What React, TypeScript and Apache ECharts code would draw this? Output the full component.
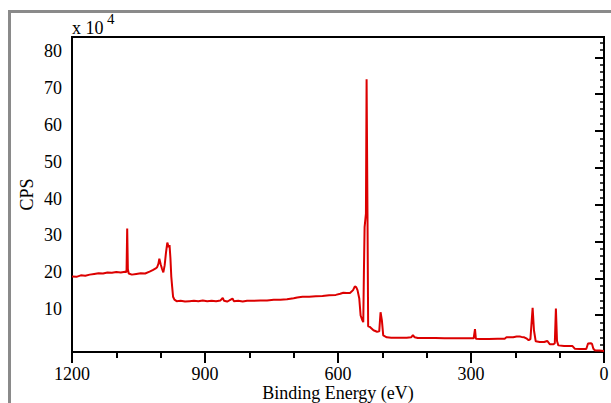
import { useEffect, useRef } from 'react';
import * as echarts from 'echarts';

// Binding energy (eV) and intensity (CPS, in units of 10^4)
const energy = [
  1200, 1190, 1180, 1170, 1160, 1150, 1140, 1130, 1120, 1110, 1100, 1090, 1080, 1077, 1075.5, 1074, 1072,
  1065, 1055, 1045, 1035, 1025, 1018, 1012, 1008, 1005, 1003, 1000, 997, 994, 991, 988, 985, 982, 980,
  978, 976, 974, 972, 969, 964, 955, 945, 935, 925, 915, 905, 895, 885, 875, 865, 860, 857, 850, 845,
  838, 835, 825, 815, 805, 790, 775, 760, 745, 730, 715, 700, 692, 680, 665, 650, 635, 620, 605, 595,
  588, 580, 573, 566, 562, 559, 556, 552, 549, 545, 543, 541.5, 540, 537, 535.5, 533.5, 532, 528, 520,
  512, 507, 504, 501, 498, 490, 480, 460, 445, 435, 431, 427, 420, 400, 380, 360, 340, 320, 300, 294,
  291, 289, 280, 260, 240, 224, 220, 205, 197, 190, 186, 180, 174, 170, 166, 161, 158, 154, 145, 135,
  128, 122, 114, 111, 108.5, 106, 103, 90, 80, 71, 66, 55, 40, 36, 30, 27, 24, 20, 10, 0,
];
const cps = [
  20.5, 20.4, 20.8, 20.7, 21.0, 21.2, 21.4, 21.3, 21.6, 21.5, 21.7, 21.6, 21.8, 21.7, 33.5, 22.5, 21.3,
  21.0, 21.2, 21.4, 21.3, 21.8, 22.2, 22.6, 23.0, 24.0, 25.3, 23.8, 22.6, 21.6, 23.5, 27.0, 29.7, 28.5, 29.0,
  25.5, 20.4, 17.6, 15.0, 14.2, 13.8, 13.9, 13.7, 13.8, 13.9, 13.8, 14.0, 13.8, 13.9, 13.8, 14.0, 14.7, 13.9, 13.7, 14.0,
  14.5, 13.8, 13.9, 13.7, 13.9, 13.9, 14.0, 14.0, 14.2, 14.2, 14.3, 14.6, 14.8, 15.0, 15.0, 15.1, 15.2, 15.4, 15.5, 15.8,
  16.1, 16.0, 16.0, 16.8, 17.8, 17.6, 16.8, 14.5, 9.9, 8.6, 8.1, 22.2, 33.9, 37.6, 74.0, 37.6, 7.0, 6.8, 5.9,
  5.5, 5.6, 10.8, 8.6, 4.5, 4.0, 3.9, 3.9, 3.9, 4.0, 4.6, 4.0, 3.8, 3.8, 3.8, 3.7, 3.7, 3.7, 3.7, 3.7,
  6.2, 3.6, 3.5, 3.5, 3.6, 3.6, 4.0, 4.0, 4.2, 4.2, 4.1, 4.0, 3.6, 3.2, 3.5, 12.0, 5.9, 2.9, 2.7, 2.7,
  3.0, 2.1, 2.1, 2.4, 11.8, 3.0, 1.8, 1.6, 1.6, 1.6, 0.9, 0.8, 0.8, 2.3, 2.4, 2.2, 0.9, 0.4, 0.4, 0.3,
];

const xTicks = [1200, 900, 600, 300, 0];
const yTicks = [10, 20, 30, 40, 50, 60, 70, 80];

const FONT = "'Liberation Serif', 'Times New Roman', serif";

export default function App() {
  const ref = useRef<HTMLDivElement>(null);
  useEffect(() => {
    const chart = echarts.init(ref.current!, null, { renderer: 'svg' });
    chart.setOption({
      animation: false,
      backgroundColor: '#fff',
      grid: {
        left: 72, top: 37, right: 7, bottom: 51,
        outerBoundsMode: 'none',
        containLabel: false,
        show: true, borderColor: '#000', borderWidth: 2, backgroundColor: 'transparent',
      },
      xAxis: {
        type: 'value',
        inverse: true,
        min: 0,
        max: 1200,
        interval: 300,
        axisLine: { show: true, lineStyle: { color: '#000', width: 2 } },
        axisTick: { show: true, length: 11, lineStyle: { color: '#000', width: 2 } },
        minorTick: { show: true, splitNumber: 3, length: 6, lineStyle: { color: '#000', width: 2 } },
        splitLine: { show: false },
        axisLabel: {
          fontFamily: FONT, fontSize: 18, color: '#000', margin: 13,
          formatter: (v: number) => (xTicks.includes(v) ? String(v) : ''),
        },
        name: 'Binding Energy (eV)',
        nameLocation: 'middle',
        nameGap: 32,
        nameMoveOverlap: false,
        nameTextStyle: { fontFamily: FONT, fontSize: 18, color: '#000' },
      },
      yAxis: {
        type: 'value',
        min: 0,
        max: 85.5,
        interval: 10,
        axisLine: { show: true, lineStyle: { color: '#000', width: 2 } },
        axisTick: { show: true, length: 9, lineStyle: { color: '#000', width: 2 } },
        minorTick: { show: true, splitNumber: 5, length: 4, lineStyle: { color: '#000', width: 1.5 } },
        splitLine: { show: false },
        axisLabel: {
          fontFamily: FONT, fontSize: 18, color: '#000', margin: 10,
          verticalAlign: 'bottom', lineHeight: 12,
          showMaxLabel: false,
          formatter: (v: number) => (yTicks.includes(v) ? String(v) : ''),
        },
        name: 'CPS',
        nameLocation: 'middle',
        nameGap: 36,
        nameMoveOverlap: false,
        nameTextStyle: { fontFamily: FONT, fontSize: 18, color: '#000' },
      },
      graphic: [
        {
          type: 'rect',
          shape: { x: 9.5, y: 11.5, width: 700, height: 500 },
          style: { fill: 'none', stroke: '#8a8a8a', lineWidth: 3 },
          silent: true,
        },
        {
          type: 'text',
          left: 72, top: 19,
          style: { text: 'x 10', font: `18px ${FONT}`, fill: '#000' },
        },
        {
          type: 'text',
          left: 107, top: 11,
          style: { text: '4', font: `15px ${FONT}`, fill: '#000' },
        },
      ],
      series: [
        {
          type: 'line',
          data: energy.map((e, i) => [e, cps[i]]),
          showSymbol: false,
          symbol: 'none',
          lineStyle: { color: '#dc0000', width: 2 },
          clip: true,
        },
      ],
    });
    return () => chart.dispose();
  }, []);
  return <div ref={ref} style={{ position: 'absolute', left: 0, top: 0, width: 611, height: 403 }} />;
}
